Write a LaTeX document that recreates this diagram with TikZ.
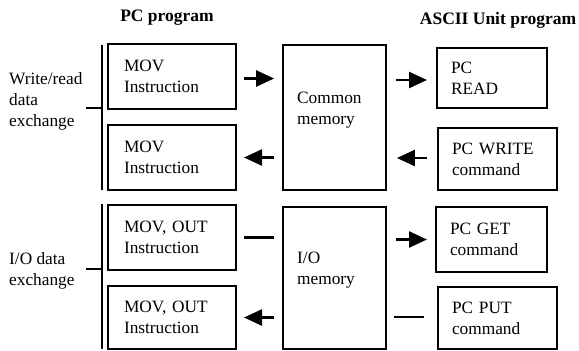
\documentclass[tikz,border=0pt]{standalone}
\usepackage{fontspec}
\setmainfont{Liberation Serif}
\usetikzlibrary{arrows.meta}
\begin{document}
\begin{tikzpicture}[x=1pt,y=-1pt,
  txt/.style={font=\fontsize{17.3}{21}\selectfont, align=left, inner sep=0pt},
  ttl/.style={font=\fontsize{17.5}{21}\selectfont\bfseries, inner sep=0pt},
  lbox/.style={draw, line width=2pt, txt, inner xsep=16pt, text width=96pt, minimum height=65pt},
  rbox/.style={draw, line width=2pt, txt, inner xsep=14pt},
  mbox/.style={draw, line width=1.8pt, minimum width=103pt, inner sep=0pt},
  conn/.style={line width=2.5pt},
  arr/.style={conn, -{Triangle[length=18pt,width=16pt]}},
  bar/.style={line width=2pt}]
\useasboundingbox (0,0) rectangle (579,351);
% titles
\node[ttl] (t1) at (167,18) {PC program};
\node[ttl] (t2) at (498,20) {ASCII Unit program};
% left boxes
\node[lbox] (b1) at (172,76.5) {MOV\\Instruction};
\node[lbox] (b2) at (172,157.5) {MOV\\Instruction};
\node[lbox] (b3) at (172,237.5) {MOV, OUT\\Instruction};
\node[lbox, minimum height=63pt] (b4) at (172,317.5) {MOV, OUT\\Instruction};
% memory boxes
\node[mbox, minimum height=145pt] (cm) at (334.5,117.5) {};
\node[txt, anchor=west] (cmt) at (297,110) {Common\\memory};
\node[mbox, minimum height=142pt] (io) at (334.5,278) {};
\node[txt, anchor=west] (iot) at (297,270) {I/O\\memory};
% right boxes
\node[rbox, text width=82pt, minimum height=60pt] (r1) at (492,78) {PC\\READ};
\node[rbox, text width=91pt, minimum height=62pt] (r2) at (497.5,159) {PC WRITE\\command};
\node[rbox, text width=83pt, minimum height=65pt] (r3) at (491.5,239.5) {PC GET\\command};
\node[rbox, text width=91pt, minimum height=62pt] (r4) at (497.5,318) {PC PUT\\command};
% left group labels and brackets
\node[txt, anchor=west] (lab1) at (9,101) {Write/read\\data\\exchange};
\node[txt, anchor=west] (lab2) at (9,271) {I/O data\\exchange};
\coordinate (bar1t) at (102,45);
\coordinate (bar1b) at (102,190);
\coordinate (bar2t) at (102,204);
\coordinate (bar2b) at (102,349);
\coordinate (tk1) at (86,108);
\coordinate (tk2) at (86,269);
\draw[bar] (bar1t) -- (bar1b);
\draw[bar] (bar2t) -- (bar2b);
\draw[bar] (tk1) -- (tk1 -| bar1t);
\draw[bar] (tk2) -- (tk2 -| bar2t);
% connectors left side
\draw[arr, shorten <=7pt, shorten >=8pt] ([yshift=-2pt]b1.east) -- ([yshift=-2pt]b1.east -| cm.west);
\draw[arr, shorten <=8pt, shorten >=7pt] (b2.east -| cm.west) -- (b2.east);
\draw[conn, shorten <=7pt, shorten >=8pt] (b3.east) -- (b3.east -| io.west);
\draw[arr, shorten <=8pt, shorten >=7pt] (b4.east -| io.west) -- (b4.east);
% connectors right side
\draw[arr, shorten <=9pt, shorten >=9pt] ([yshift=-2pt]r1.west -| cm.east) -- ([yshift=-2pt]r1.west);
\draw[arr, shorten <=10pt, shorten >=10pt] ([yshift=1pt]r2.west) -- ([yshift=1pt]r2.west -| cm.east);
\draw[arr, shorten <=9pt, shorten >=8pt] (r3.west -| io.east) -- (r3.west);
\draw[conn, shorten <=7pt, shorten >=13pt] ([yshift=1pt]r4.west -| io.east) -- ([yshift=1pt]r4.west);
\end{tikzpicture}
\end{document}
